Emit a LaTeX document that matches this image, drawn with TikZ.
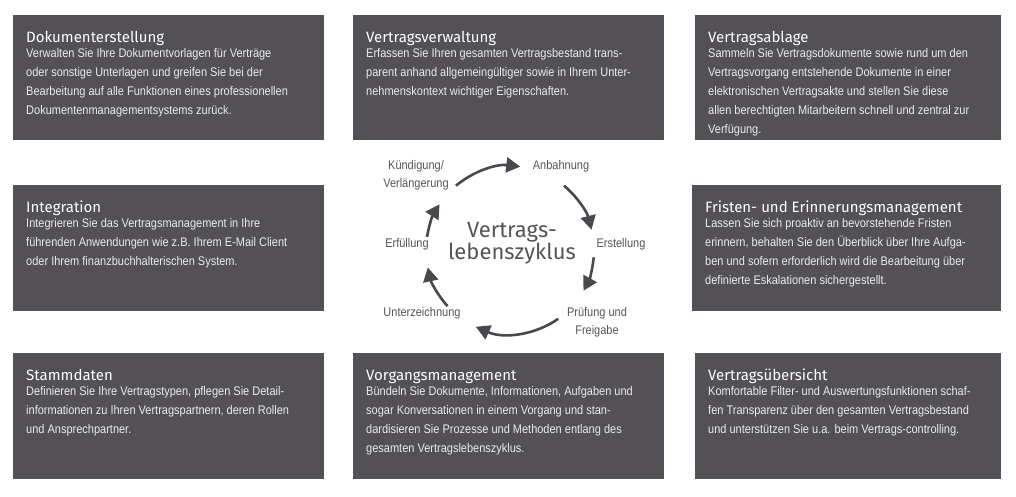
\documentclass[tikz,border=0pt]{standalone}
\usepackage{fontspec}
\setmainfont{Liberation Sans}[FakeStretch=0.88]
\newfontfamily\ttlfont{Fira Sans}
\newfontfamily\ctrfont{Fira Sans}
\usetikzlibrary{arrows.meta}
\definecolor{boxc}{HTML}{535056}
\definecolor{arrc}{HTML}{4A474D}
\definecolor{lblc}{HTML}{555555}
\tikzset{
 box/.style={fill=boxc,draw=none},
 ttl/.style={anchor=base west,inner sep=0,text=white,font=\ttlfont\fontsize{15}{18}\selectfont},
 body/.style={anchor=north west,inner sep=0,align=left,text=white!92!black,font=\fontsize{12.5}{19}\selectfont},
 lbl/.style={inner sep=0,align=center,text=lblc,font=\fontsize{12.5}{18}\selectfont},
 cyc/.style={draw=arrc,line width=2.6pt,-{Triangle[length=14pt,width=15pt]}}
}
\begin{document}
\begin{tikzpicture}[x=1pt,y=-1pt]
\useasboundingbox[fill=white] (0,0) rectangle (1016,496);
\newcommand\mybox[5]{%
 \fill[box] (#1,#2) rectangle (#3,#4);
 \node[ttl] at (#1+13,#2+27) {\csname ttl#5\endcsname};
 \node[body] at (#1+13,#2+33) {\csname bdy#5\endcsname};
}
\expandafter\def\csname ttlA\endcsname{Dokumenterstellung}
\expandafter\def\csname bdyA\endcsname{Verwalten Sie Ihre Dokumentvorlagen für Verträge\\oder sonstige Unterlagen und greifen Sie bei der\\Bearbeitung auf alle Funktionen eines professionellen\\Dokumentenmanagementsystems zurück.}
\expandafter\def\csname ttlB\endcsname{Vertragsverwaltung}
\expandafter\def\csname bdyB\endcsname{Erfassen Sie Ihren gesamten Vertragsbestand trans-\\parent anhand allgemeingültiger sowie in Ihrem Unter-\\nehmenskontext wichtiger Eigenschaften.}
\expandafter\def\csname ttlC\endcsname{Vertragsablage}
\expandafter\def\csname bdyC\endcsname{Sammeln Sie Vertragsdokumente sowie rund um den\\Vertragsvorgang entstehende Dokumente in einer\\elektronischen Vertragsakte und stellen Sie diese\\allen berechtigten Mitarbeitern schnell und zentral zur\\Verfügung.}
\expandafter\def\csname ttlD\endcsname{Integration}
\expandafter\def\csname bdyD\endcsname{Integrieren Sie das Vertragsmanagement in Ihre\\führenden Anwendungen wie z.B. Ihrem E-Mail Client\\oder Ihrem finanzbuchhalterischen System.}
\expandafter\def\csname ttlE\endcsname{Fristen- und Erinnerungsmanagement}
\expandafter\def\csname bdyE\endcsname{Lassen Sie sich proaktiv an bevorstehende Fristen\\erinnern, behalten Sie den Überblick über Ihre Aufga-\\ben und sofern erforderlich wird die Bearbeitung über\\definierte Eskalationen sichergestellt.}
\expandafter\def\csname ttlF\endcsname{Stammdaten}
\expandafter\def\csname bdyF\endcsname{Definieren Sie Ihre Vertragstypen, pflegen Sie Detail-\\informationen zu Ihren Vertragspartnern, deren Rollen\\und Ansprechpartner.}
\expandafter\def\csname ttlG\endcsname{Vorgangsmanagement}
\expandafter\def\csname bdyG\endcsname{Bündeln Sie Dokumente, Informationen, Aufgaben und\\sogar Konversationen in einem Vorgang und stan-\\dardisieren Sie Prozesse und Methoden entlang des\\gesamten Vertragslebenszyklus.}
\expandafter\def\csname ttlH\endcsname{Vertragsübersicht}
\expandafter\def\csname bdyH\endcsname{Komfortable Filter- und Auswertungsfunktionen schaf-\\fen Transparenz über den gesamten Vertragsbestand\\und unterstützen Sie u.a. beim Vertrags-controlling.}
\mybox{13}{15}{324}{140}{A}
\mybox{353}{15}{664}{140}{B}
\mybox{695}{15}{1001}{140}{C}
\mybox{13}{185}{324}{311}{D}
\mybox{692}{185}{1001}{311}{E}
\mybox{13}{353}{324}{479}{F}
\mybox{353}{353}{664}{479}{G}
\mybox{695}{353}{1001}{479}{H}
% cycle
\coordinate (c) at (510,250);
\node[lbl] (kuend) at (416,175) {Kündigung/\\Verlängerung};
\node[lbl] (anb) at (561,166) {Anbahnung};
\node[lbl] (erst) at (621,244) {Erstellung};
\node[lbl] (pruef) at (597,322) {Prüfung und\\Freigabe};
\node[lbl] (unter) at (422,313) {Unterzeichnung};
\node[lbl] (erf) at (407,244) {Erfüllung};
\node[inner sep=0,align=center,text=lblc,font=\ctrfont\fontsize{22}{22}\selectfont] (ctr) at (512,243) {Vertrags-\\lebenszyklus};
\draw[cyc] ([shift={(-130:84)}]c) arc[start angle=-130,end angle=-83,radius=84];
\draw[cyc] ([shift={(-50:84)}]c) arc[start angle=-50,end angle=-14,radius=84];
\draw[cyc] ([shift={(5:84)}]c) arc[start angle=5,end angle=29,radius=84];
\draw[cyc] ([shift={(55:84)}]c) arc[start angle=55,end angle=114,radius=84];
\draw[cyc] ([shift={(138:84)}]c) arc[start angle=138,end angle=168,radius=84];
\draw[cyc] ([shift={(-171:84)}]c) arc[start angle=-171,end angle=-147,radius=84];
\end{tikzpicture}
\end{document}
